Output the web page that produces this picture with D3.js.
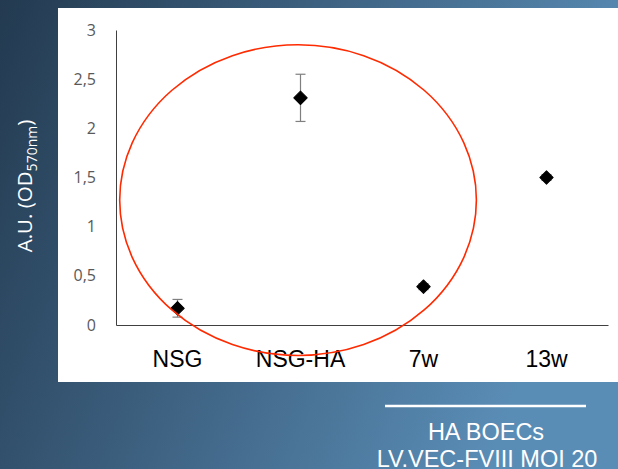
<!DOCTYPE html>
<html>
<head>
<meta charset="utf-8">
<script src="https://cdn.jsdelivr.net/npm/d3@7"></script>
<style>
  body { margin: 0; padding: 0; overflow: hidden; }
  svg { display: block; }
</style>
</head>
<body>
<div id="chart"></div>
<script>
// data
var categories = ["NSG", "NSG-HA", "7w", "13w"];
var values = [0.17, 2.31, 0.39, 1.5];
var errors = [0.09, 0.24, 0.03, 0.03];
var yTicks = [0, 0.5, 1, 1.5, 2, 2.5, 3];
var yTickLabels = ["0", "0,5", "1", "1,5", "2", "2,5", "3"];
// red ellipse, in category-index / value units
var ellipseCenter = [0.98, 1.27];
var ellipseRadius = [1.45, 1.58];

var W = 618, H = 469;
var margin = { top: 30, right: 10, bottom: 144, left: 116 };
var width = W - margin.left - margin.right,
  height = H - margin.top - margin.bottom;

var svg = d3.select("#chart").append("svg")
  .attr("width", W)
  .attr("height", H);

// background gradient
var defs = svg.append("defs");
var grad = defs.append("linearGradient")
  .attr("id", "bg")
  .attr("x1", "0%").attr("y1", "0%")
  .attr("x2", "100%").attr("y2", "30%");
grad.append("stop").attr("offset", "0%").attr("stop-color", "#233a50");
grad.append("stop").attr("offset", "45%").attr("stop-color", "#3c5f7e");
grad.append("stop").attr("offset", "100%").attr("stop-color", "#5a8db6");

svg.append("rect")
  .attr("width", W).attr("height", H)
  .attr("fill", "url(#bg)");

// white panel
svg.append("rect")
  .attr("x", 58).attr("y", 8)
  .attr("width", W - 58).attr("height", 374)
  .attr("fill", "white");

var g = svg.append("g")
  .attr("transform", "translate(" + margin.left + "," + margin.top + ")");

var x = d3.scaleBand()
  .domain(categories)
  .range([0, width]);

// index scale for the annotation
var xi = d3.scaleLinear()
  .domain([-0.5, categories.length - 0.5])
  .range([0, width]);

var y = d3.scaleLinear()
  .domain([0, 3])
  .range([height, 0]);

// y axis
var yAxis = g.append("g")
  .call(d3.axisLeft(y)
    .tickValues(yTicks)
    .tickSize(0)
    .tickPadding(20)
    .tickFormat(function (d, i) { return yTickLabels[i]; }));
yAxis.select(".domain").attr("stroke", "#404040");
yAxis.selectAll("text")
  .attr("fill", "#595959")
  .style("font-family", "'Open Sans', sans-serif")
  .style("font-size", "16px");

// x axis
var xAxis = g.append("g")
  .attr("transform", "translate(0," + height + ")")
  .call(d3.axisBottom(x).tickSize(0).tickPadding(26));
xAxis.select(".domain").attr("stroke", "#404040");
xAxis.selectAll("text")
  .attr("fill", "black")
  .style("font-family", "'Liberation Sans', Arial, sans-serif")
  .style("font-size", "23px");

// error bars
var eb = g.selectAll(".err")
  .data(categories)
  .enter()
  .append("g")
  .attr("class", "err")
  .attr("stroke", "#7f7f7f")
  .attr("stroke-width", 1.2);
eb.append("line")
  .attr("x1", function (d) { return x(d) + x.bandwidth() / 2; })
  .attr("x2", function (d) { return x(d) + x.bandwidth() / 2; })
  .attr("y1", function (d, i) { return y(values[i] + errors[i]); })
  .attr("y2", function (d, i) { return y(values[i] - errors[i]); });
eb.selectAll(".cap")
  .data(function (d, i) { return [values[i] + errors[i], values[i] - errors[i]].map(function (v) { return { c: d, v: v }; }); })
  .enter()
  .append("line")
  .attr("x1", function (d) { return x(d.c) + x.bandwidth() / 2 - 5; })
  .attr("x2", function (d) { return x(d.c) + x.bandwidth() / 2 + 5; })
  .attr("y1", function (d) { return y(d.v); })
  .attr("y2", function (d) { return y(d.v); });

// diamond markers
g.selectAll(".pt")
  .data(categories)
  .enter()
  .append("path")
  .attr("class", "pt")
  .attr("d", d3.symbol().type(d3.symbolSquare).size(90))
  .attr("transform", function (d, i) {
    return "translate(" + (x(d) + x.bandwidth() / 2) + "," + y(values[i]) + ") rotate(45)";
  })
  .attr("fill", "black")
  .attr("stroke", "black")
  .attr("stroke-width", 1)
  .attr("stroke-linejoin", "round");

// red ellipse annotation
g.append("ellipse")
  .attr("cx", xi(ellipseCenter[0]))
  .attr("cy", y(ellipseCenter[1]))
  .attr("rx", xi(ellipseRadius[0]) - xi(0))
  .attr("ry", y(0) - y(ellipseRadius[1]))
  .attr("fill", "none")
  .attr("stroke", "#ff2a00")
  .attr("stroke-width", 1.6);

// y axis title
var yt = svg.append("text")
  .attr("transform", "translate(32,186) rotate(-90)")
  .attr("text-anchor", "middle")
  .attr("fill", "white")
  .style("font-family", "'Open Sans', sans-serif")
  .style("font-size", "20.5px");
yt.append("tspan").text("A.U. (OD");
yt.append("tspan").attr("dy", 5).style("font-size", "14px").text("570nm");
yt.append("tspan").attr("dy", -5).text(")");

// bottom caption
svg.append("line")
  .attr("x1", 385).attr("x2", 586)
  .attr("y1", 406).attr("y2", 406)
  .attr("stroke", "white")
  .attr("stroke-width", 2.5);

var cap = svg.append("text")
  .attr("text-anchor", "middle")
  .attr("fill", "white")
  .style("font-family", "'Liberation Sans Narrow', 'Liberation Sans', sans-serif")
  .style("font-size", "23.5px");
cap.append("tspan").attr("x", 486).attr("y", 440).text("HA BOECs");
cap.append("tspan").attr("x", 487).attr("y", 467).text("LV.VEC-FVIII MOI 20");
</script>
</body>
</html>
